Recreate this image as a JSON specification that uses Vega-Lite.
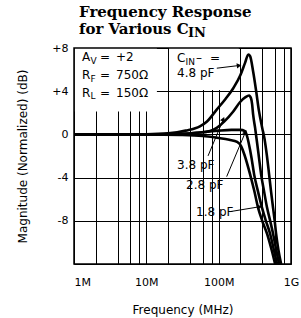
{
  "$schema": "https://vega.github.io/schema/vega-lite/v6.json",
  "autosize": {"type": "none"},
  "padding": {"left": 74, "top": 48, "right": 10, "bottom": 54},
  "width": 217,
  "height": 216,
  "background": "white",
  "config": {"view": {"stroke": "black", "strokeWidth": 1.5}},
  "title": {
    "text": ["Frequency Response", "for Various C"],
    "font": "DejaVu Serif", "fontWeight": "bold", "fontSize": 15, "lineHeight": 17,
    "anchor": "start", "frame": "group", "dx": 5, "dy": 21, "offset": 11, "color": "black"
  },
  "datasets": {
    "boxes": [
      {"f1": 1.03, "f2": 14, "d1": 2.12, "d2": 7.93},
      {"f1": 20.6, "f2": 190, "d1": 4.12, "d2": 7.93}
    ],
    "curves": [
      {"cap": "1.8 pF", "f": 1, "dB": 0}, {"cap": "1.8 pF", "f": 3, "dB": 0}, {"cap": "1.8 pF", "f": 10, "dB": 0},
      {"cap": "1.8 pF", "f": 30, "dB": -0.05}, {"cap": "1.8 pF", "f": 60, "dB": -0.15}, {"cap": "1.8 pF", "f": 100, "dB": -0.33},
      {"cap": "1.8 pF", "f": 140, "dB": -0.5}, {"cap": "1.8 pF", "f": 180, "dB": -0.7}, {"cap": "1.8 pF", "f": 205, "dB": -1.1},
      {"cap": "1.8 pF", "f": 230, "dB": -2.0}, {"cap": "1.8 pF", "f": 272, "dB": -3.7}, {"cap": "1.8 pF", "f": 310, "dB": -5.2},
      {"cap": "1.8 pF", "f": 351, "dB": -6.8}, {"cap": "1.8 pF", "f": 400, "dB": -8.0}, {"cap": "1.8 pF", "f": 467, "dB": -9.2},
      {"cap": "1.8 pF", "f": 540, "dB": -10.7}, {"cap": "1.8 pF", "f": 603, "dB": -12},

      {"cap": "2.8 pF", "f": 1, "dB": 0}, {"cap": "2.8 pF", "f": 3, "dB": 0}, {"cap": "2.8 pF", "f": 10, "dB": 0},
      {"cap": "2.8 pF", "f": 30, "dB": 0.05}, {"cap": "2.8 pF", "f": 60, "dB": 0.2}, {"cap": "2.8 pF", "f": 100, "dB": 0.35},
      {"cap": "2.8 pF", "f": 150, "dB": 0.42}, {"cap": "2.8 pF", "f": 200, "dB": 0.42}, {"cap": "2.8 pF", "f": 230, "dB": 0.3},
      {"cap": "2.8 pF", "f": 245, "dB": -0.1}, {"cap": "2.8 pF", "f": 260, "dB": -0.8}, {"cap": "2.8 pF", "f": 285, "dB": -2.2},
      {"cap": "2.8 pF", "f": 309, "dB": -3.7}, {"cap": "2.8 pF", "f": 350, "dB": -5.3}, {"cap": "2.8 pF", "f": 398, "dB": -6.8},
      {"cap": "2.8 pF", "f": 450, "dB": -8.0}, {"cap": "2.8 pF", "f": 514, "dB": -9.2}, {"cap": "2.8 pF", "f": 580, "dB": -10.7},
      {"cap": "2.8 pF", "f": 642, "dB": -12},

      {"cap": "3.8 pF", "f": 1, "dB": 0}, {"cap": "3.8 pF", "f": 3, "dB": 0}, {"cap": "3.8 pF", "f": 10, "dB": 0},
      {"cap": "3.8 pF", "f": 30, "dB": 0.05}, {"cap": "3.8 pF", "f": 50, "dB": 0.15}, {"cap": "3.8 pF", "f": 76, "dB": 0.32},
      {"cap": "3.8 pF", "f": 94, "dB": 0.6}, {"cap": "3.8 pF", "f": 120, "dB": 1.2}, {"cap": "3.8 pF", "f": 158, "dB": 2.1},
      {"cap": "3.8 pF", "f": 198, "dB": 3.0}, {"cap": "3.8 pF", "f": 235, "dB": 3.45}, {"cap": "3.8 pF", "f": 263, "dB": 3.6},
      {"cap": "3.8 pF", "f": 280, "dB": 3.35}, {"cap": "3.8 pF", "f": 290, "dB": 2.8}, {"cap": "3.8 pF", "f": 300, "dB": 1.8},
      {"cap": "3.8 pF", "f": 319, "dB": 0.6}, {"cap": "3.8 pF", "f": 340, "dB": -0.8}, {"cap": "3.8 pF", "f": 360, "dB": -2.1},
      {"cap": "3.8 pF", "f": 386, "dB": -3.7}, {"cap": "3.8 pF", "f": 425, "dB": -5.3}, {"cap": "3.8 pF", "f": 467, "dB": -6.8},
      {"cap": "3.8 pF", "f": 515, "dB": -8.0}, {"cap": "3.8 pF", "f": 565, "dB": -9.2}, {"cap": "3.8 pF", "f": 625, "dB": -10.7},
      {"cap": "3.8 pF", "f": 685, "dB": -12},

      {"cap": "4.8 pF", "f": 1, "dB": 0}, {"cap": "4.8 pF", "f": 3, "dB": 0}, {"cap": "4.8 pF", "f": 10, "dB": 0.02},
      {"cap": "4.8 pF", "f": 20, "dB": 0.1}, {"cap": "4.8 pF", "f": 35, "dB": 0.35}, {"cap": "4.8 pF", "f": 55, "dB": 0.75},
      {"cap": "4.8 pF", "f": 69, "dB": 1.2}, {"cap": "4.8 pF", "f": 94, "dB": 2.3}, {"cap": "4.8 pF", "f": 125, "dB": 3.3},
      {"cap": "4.8 pF", "f": 160, "dB": 4.3}, {"cap": "4.8 pF", "f": 200, "dB": 5.5}, {"cap": "4.8 pF", "f": 231, "dB": 6.6},
      {"cap": "4.8 pF", "f": 257, "dB": 7.4}, {"cap": "4.8 pF", "f": 272, "dB": 7.25}, {"cap": "4.8 pF", "f": 300, "dB": 5.8},
      {"cap": "4.8 pF", "f": 330, "dB": 4.0}, {"cap": "4.8 pF", "f": 360, "dB": 2.2}, {"cap": "4.8 pF", "f": 400, "dB": 0.6},
      {"cap": "4.8 pF", "f": 430, "dB": -0.4}, {"cap": "4.8 pF", "f": 465, "dB": -2.0}, {"cap": "4.8 pF", "f": 498, "dB": -3.7},
      {"cap": "4.8 pF", "f": 530, "dB": -5.3}, {"cap": "4.8 pF", "f": 565, "dB": -6.8}, {"cap": "4.8 pF", "f": 595, "dB": -8.0},
      {"cap": "4.8 pF", "f": 622, "dB": -9.2}, {"cap": "4.8 pF", "f": 670, "dB": -10.7}, {"cap": "4.8 pF", "f": 730, "dB": -12}
    ],
    "arrows": [
      {"f1": 94.2, "d1": 6.13, "f2": 187, "d2": 6.37, "heading": 83},
      {"f1": 71.3, "d1": -1.99, "f2": 115, "d2": 1.34, "heading": 22},
      {"f1": 129, "d1": -3.91, "f2": 232, "d2": 0.14, "heading": 23},
      {"f1": 144, "d1": -7.15, "f2": 361, "d2": -6.71, "heading": 81}
    ],
    "labels": [
      {"kind": "main", "t": "A", "f": 1.29, "dB": 7.15},
      {"kind": "main", "t": "=", "f": 2.29, "dB": 7.15},
      {"kind": "main", "t": "+2", "f": 3.81, "dB": 7.15},
      {"kind": "main", "t": "R", "f": 1.29, "dB": 5.51},
      {"kind": "main", "t": "=", "f": 2.29, "dB": 5.51},
      {"kind": "main", "t": "750Ω", "f": 3.81, "dB": 5.51},
      {"kind": "main", "t": "R", "f": 1.29, "dB": 3.87},
      {"kind": "main", "t": "=", "f": 2.29, "dB": 3.87},
      {"kind": "main", "t": "150Ω", "f": 3.81, "dB": 3.87},
      {"kind": "main", "t": "C", "f": 26.6, "dB": 7.06},
      {"kind": "main", "t": "–", "f": 48.7, "dB": 7.06},
      {"kind": "main", "t": "=", "f": 76, "dB": 7.06},
      {"kind": "main", "t": "4.8 pF", "f": 26.6, "dB": 5.67},
      {"kind": "main", "t": "3.8 pF", "f": 26.6, "dB": -2.82},
      {"kind": "main", "t": "2.8 pF", "f": 35.4, "dB": -4.68},
      {"kind": "main", "t": "1.8 pF", "f": 48.7, "dB": -7.18},
      {"kind": "sub", "t": "V", "f": 1.69, "dB": 6.76},
      {"kind": "sub", "t": "F", "f": 1.69, "dB": 5.14},
      {"kind": "sub", "t": "L", "f": 1.69, "dB": 3.52},
      {"kind": "sub", "t": "IN", "f": 34.9, "dB": 6.71},
      {"kind": "title", "t": "IN", "f": 37.7, "dB": 9.35}
    ]
  },
  "layer": [
    {
      "data": {"name": "boxes"},
      "mark": {"type": "rect", "fill": "white", "stroke": null},
      "encoding": {
        "x": {
          "field": "f1", "type": "quantitative", "title": "Frequency (MHz)",
          "scale": {"type": "log", "domain": [1, 1000], "nice": false},
          "axis": {
            "values": [1, 2, 4, 6, 8, 10, 20, 40, 60, 80, 100, 200, 400, 600, 800, 1000],
            "labelExpr": "datum.value==1?'1M':datum.value==10?'10M':datum.value==100?'100M':datum.value==1000?'1G':''",
            "grid": true, "gridColor": "black", "gridWidth": 1, "gridOpacity": 1,
            "ticks": false, "domain": false, "labelOverlap": false,
            "labelFont": "DejaVu Sans", "labelFontSize": 11, "labelColor": "black", "labelPadding": 12,
            "labelAlign": {"condition": {"test": "datum.value==1", "value": "left"}, "value": "center"},
            "titleFont": "DejaVu Sans", "titleFontSize": 12, "titleFontWeight": "normal", "titleColor": "black", "titlePadding": 17
          }
        },
        "x2": {"field": "f2"},
        "y": {
          "field": "d1", "type": "quantitative", "title": "Magnitude (Normalized) (dB)",
          "scale": {"domain": [-12, 8], "nice": false, "zero": false},
          "axis": {
            "values": [-12, -10, -8, -6, -4, -2, 0, 2, 4, 6, 8],
            "labelExpr": "datum.value==8?'+8':datum.value==4?'+4':datum.value==0?'0':datum.value==-4?'-4':datum.value==-8?'-8':''",
            "grid": true, "gridColor": "black", "gridWidth": 1, "gridOpacity": 1,
            "ticks": false, "domain": false, "labelOverlap": false,
            "labelFont": "DejaVu Sans", "labelFontSize": 11, "labelColor": "black", "labelPadding": 6,
            "titleFont": "DejaVu Sans", "titleFontSize": 12, "titleFontWeight": "normal", "titleColor": "black", "titlePadding": 22
          }
        },
        "y2": {"field": "d2"}
      }
    },
    {
      "data": {"name": "curves"},
      "mark": {"type": "line", "color": "black", "strokeWidth": 2.6, "interpolate": "monotone", "strokeJoin": "round"},
      "encoding": {
        "x": {"field": "f", "type": "quantitative", "title": "Frequency (MHz)"},
        "y": {"field": "dB", "type": "quantitative", "title": "Magnitude (Normalized) (dB)"},
        "detail": {"field": "cap", "type": "nominal"}
      }
    },
    {
      "data": {"name": "arrows"},
      "mark": {"type": "rule", "color": "black", "strokeWidth": 1},
      "encoding": {
        "x": {"field": "f1", "type": "quantitative", "title": "Frequency (MHz)"},
        "x2": {"field": "f2"},
        "y": {"field": "d1", "type": "quantitative", "title": "Magnitude (Normalized) (dB)"},
        "y2": {"field": "d2"}
      }
    },
    {
      "data": {"name": "arrows"},
      "mark": {"type": "point", "shape": "triangle", "filled": true, "color": "black", "size": 28, "opacity": 1},
      "encoding": {
        "x": {"field": "f2", "type": "quantitative", "title": "Frequency (MHz)"},
        "y": {"field": "d2", "type": "quantitative", "title": "Magnitude (Normalized) (dB)"},
        "angle": {"field": "heading", "type": "quantitative", "scale": null}
      }
    },
    {
      "data": {"name": "labels"},
      "transform": [{"filter": "datum.kind == 'main'"}],
      "mark": {"type": "text", "align": "left", "baseline": "middle", "font": "DejaVu Sans", "fontSize": 12, "color": "black"},
      "encoding": {
        "x": {"field": "f", "type": "quantitative", "title": "Frequency (MHz)"},
        "y": {"field": "dB", "type": "quantitative", "title": "Magnitude (Normalized) (dB)"},
        "text": {"field": "t"}
      }
    },
    {
      "data": {"name": "labels"},
      "transform": [{"filter": "datum.kind == 'sub'"}],
      "mark": {"type": "text", "align": "left", "baseline": "middle", "font": "DejaVu Sans", "fontSize": 9, "color": "black"},
      "encoding": {
        "x": {"field": "f", "type": "quantitative", "title": "Frequency (MHz)"},
        "y": {"field": "dB", "type": "quantitative", "title": "Magnitude (Normalized) (dB)"},
        "text": {"field": "t"}
      }
    },
    {
      "data": {"name": "labels"},
      "transform": [{"filter": "datum.kind == 'title'"}],
      "mark": {"type": "text", "align": "left", "baseline": "middle", "font": "DejaVu Serif", "fontWeight": "bold", "fontSize": 13, "color": "black"},
      "encoding": {
        "x": {"field": "f", "type": "quantitative", "title": "Frequency (MHz)"},
        "y": {"field": "dB", "type": "quantitative", "title": "Magnitude (Normalized) (dB)"},
        "text": {"field": "t"}
      }
    }
  ]
}
